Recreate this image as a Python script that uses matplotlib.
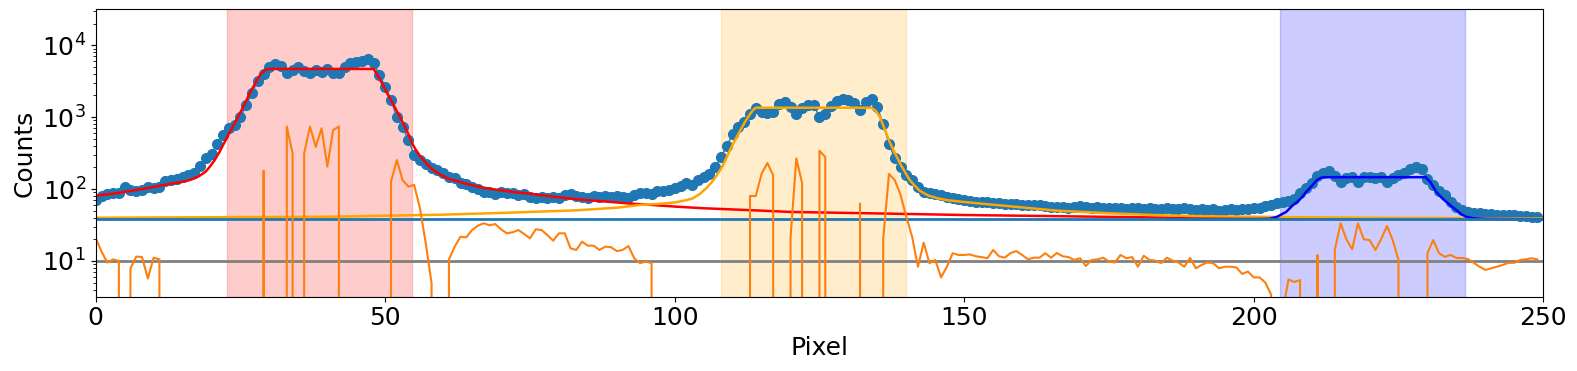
import numpy as np
import matplotlib
matplotlib.use("Agg")
import matplotlib.pyplot as plt

# ---- data ----
counts = [
    70, 81, 85, 88, 89, 105, 97, 95, 97, 108,
    102, 108, 130, 133, 136, 146, 157, 165, 209, 267,
    307, 423, 563, 700, 777, 996, 1473, 2200, 3220, 3990,
    5040, 5470, 5140, 4080, 4530, 5040, 4420, 4080, 4530, 4200,
    4620, 4080, 4080, 5040, 5620, 5920, 6110, 6390, 5620, 3860,
    2650, 1730, 997, 720, 483, 297, 253, 223, 194, 184,
    165, 148, 141, 120, 117, 108, 100, 92, 90, 85,
    92, 88, 88, 83, 86, 78, 74, 78, 74, 77,
    74, 83, 85, 80, 78, 76, 80, 78, 80, 78,
    80, 78, 76, 83, 87, 87, 86, 95, 95, 97,
    102, 110, 120, 114, 133, 146, 162, 200, 281, 396,
    582, 721, 863, 1104, 1325, 1189, 1130, 1189, 1521, 1637,
    1367, 1104, 1325, 1472, 1472, 1014, 1104, 1430, 1695, 1771,
    1730, 1585, 1256, 1637, 1790, 1367, 801, 423, 267, 204,
    157, 133, 108, 92, 87, 86, 83, 78, 74, 72,
    70, 68, 67, 66, 66, 63, 63, 62, 62, 61,
    60, 60, 59, 59, 58, 57, 56, 57, 55, 56,
    58, 57, 55, 56, 54, 55, 54, 55, 53, 54,
    55, 53, 54, 53, 52, 54, 53, 52, 54, 53,
    51, 52, 51, 52, 50, 51, 52, 51, 52, 53,
    54, 55, 58, 60, 63, 66, 68, 72, 87, 102,
    122, 152, 169, 180, 152, 126, 141, 148, 126, 146,
    148, 141, 148, 126, 141, 157, 165, 188, 204, 188,
    136, 114, 95, 83, 65, 57, 51, 48, 47, 46,
    45, 45, 44, 44, 43, 43, 42, 42, 41, 41,
]

residual = [
    21, 13.5, 9.5, 10.5, 10, 0, 7.9, 11.5, 11.3, 5.7,
    11.1, 10.5, 0, 0, 0, 0, 0, 0, 0, 0,
    0, 0, 0, 0, 0, 0, 0, 0, 0, 180,
    0, 0, 0, 740, 313, 0, 313, 740, 385, 700,
    205, 660, 740, 0, 0, 0, 0, 0, 0, 0,
    0, 126, 253, 133, 108, 114, 54, 17.6, 4.9, 0,
    0, 10.5, 15.8, 21.7, 21.3, 26.9, 30.9, 33.4, 31.3, 32.6,
    27.5, 24.2, 25, 26.9, 23.7, 20.6, 27.5, 26.9, 22.9, 19.1,
    24.2, 24.2, 15, 14.2, 18.5, 16.3, 16.3, 14.2, 15.8, 15.5,
    13.7, 14.2, 16.1, 10.9, 9.3, 9.8, 9.3, 0, 0, 0,
    0, 0, 0, 0, 0, 0, 0, 0, 0, 0,
    0, 0, 0, 80, 80, 163, 230, 155, 0, 0,
    21, 267, 120, 0, 0, 341, 278, 0, 0, 0,
    0, 0, 63, 0, 0, 0, 20, 162, 133, 83,
    41, 21.7, 8.3, 17.9, 9.3, 10.3, 5.9, 8.3, 12.8, 12.1,
    12.1, 12.3, 11.6, 11.3, 10.9, 14.2, 11.6, 11.1, 12.9, 13.7,
    12.1, 10.5, 11.1, 11.1, 12.8, 11.1, 12.9, 11.6, 11.3, 10.3,
    10.9, 8.5, 10.3, 10.5, 11.1, 9.8, 9.5, 12.1, 10.9, 11.3,
    8.3, 11.8, 10.3, 10.1, 9.3, 11.1, 10.1, 9.5, 8.3, 11,
    7.9, 8.8, 9.5, 9.3, 7.9, 8.3, 8.3, 8.1, 6.6, 7.1,
    5.9, 5.9, 5.0, 3.4, 0, 2.0, 5.5, 5.1, 5.4, 0,
    0, 12.1, 0, 0, 14.2, 33.4, 20, 14.5, 33.4, 20,
    19.5, 14.2, 20, 30.6, 19.5, 10.3, 0, 0, 0, 0,
    12.8, 19.5, 12.8, 11.4, 12.1, 11, 11, 10.6, 9.4, 8.3,
    7.5, 7.9, 8.3, 8.8, 9.4, 9.4, 10.3, 10.5, 10.9, 10.5,
]

# fitted model curves (sampled positions, values)
red_x = [0, 3, 5.3, 8, 11, 14, 15.6, 17, 17.9, 19, 19.7, 20.5, 21.4, 22.2, 23.1,
         24, 24.9, 25.8, 26.6, 27.5, 28.4, 29.2, 29.9, 48, 48.8, 49.6, 50.4,
         51.3, 52.2, 53.1, 54, 54.8, 55.7, 56.6, 57.5, 58.3, 59.7, 61.2, 62,
         64, 66, 68, 70, 72, 75, 78, 81, 84, 88, 92, 96, 100, 105, 110, 115,
         120, 130, 140, 150, 160, 170, 180, 190, 200, 210, 220, 250]
red_y = [81, 86, 92, 100, 111, 122, 129, 140, 152, 175, 204, 250, 330, 440, 607,
         820, 1130, 1560, 2150, 2900, 3860, 4500, 4680, 4680, 3700, 2800, 2100,
         1560, 1130, 820, 580, 409, 310, 253, 210, 184, 155, 136, 132,
         118, 108, 101, 96, 91, 86, 80, 75, 71, 67, 63, 60, 57, 54, 52, 50,
         48, 46.5, 45, 43.5, 42.5, 41.5, 40.5, 39.5, 39, 38.5, 38.2, 38]

orange_x = [0, 20, 41, 60, 70, 83, 90, 94, 97, 100, 102, 103.1, 104.3, 105.4,
            106.3, 107.1, 108.3, 109.4, 110.3, 111.2, 112.1, 112.9, 113.5, 114,
            134, 134.8, 135.4, 136.2, 137.1, 138, 138.9, 139.8, 140.6, 141.5,
            142.3, 143.2, 144, 145.5, 147, 150, 152.6, 158.4, 166, 175, 182.5,
            190, 199.8, 207.6, 220, 250]
orange_y = [39.9, 40.5, 41.2, 44, 46.5, 50.5, 55, 60, 62, 65, 70, 74, 85, 102,
            122, 148, 210, 330, 460, 628, 850, 1070, 1250, 1351,
            1351, 1200, 1014, 700, 455, 320, 228, 170, 133, 110,
            95, 86, 80, 74, 70, 66, 63, 57, 50, 46, 43.5,
            42, 41.2, 40.5, 39.8, 39]

blue_x = [185, 200, 202.7, 204, 205.6, 206.8, 207.6, 208.4, 209.1, 210, 210.9,
          211.5, 212, 229.7, 230.5, 231.5, 232.3, 233.2, 234.1, 235, 235.8,
          236.7, 238, 240, 250]
blue_y = [38, 38.2, 38.5, 41, 48, 60, 67, 78, 92, 110, 133,
          142, 146, 146, 125, 92, 78, 67, 58, 51, 45,
          41, 39.2, 38.5, 38]

spans = [(22.7, 54.7, "red"), (108.0, 140.0, "orange"), (204.5, 236.5, "blue")]
baseline = 37.9
threshold = 10

pixel = np.arange(len(counts))

fig = plt.figure(figsize=(15.77, 3.71), dpi=100)
ax = fig.add_axes([0.0607, 0.2003, 0.9179, 0.7741])

for x0, x1, c in spans:
    ax.axvspan(x0, x1, color=c, alpha=0.2)

ax.plot(pixel, counts, "o-", color="C0", markersize=7, lw=1)
ax.plot(red_x, red_y, color="red", lw=1.8)
ax.plot(orange_x, orange_y, color="orange", lw=1.8)
ax.plot(blue_x, blue_y, color="blue", lw=1.8)
ax.axhline(baseline, color="C0", lw=2)
ax.axhline(threshold, color="gray", lw=2)
ax.plot(pixel, residual, color="C1", lw=1.5)

ax.set_yscale("log", nonpositive="clip")
ax.set_xlim(0, 250)
ax.set_ylim(3.18, 3.14e4)
ax.set_xlabel("Pixel", fontsize=18)
ax.set_ylabel("Counts", fontsize=18)
ax.tick_params(labelsize=18)

fig.savefig("out.png", dpi=100)
